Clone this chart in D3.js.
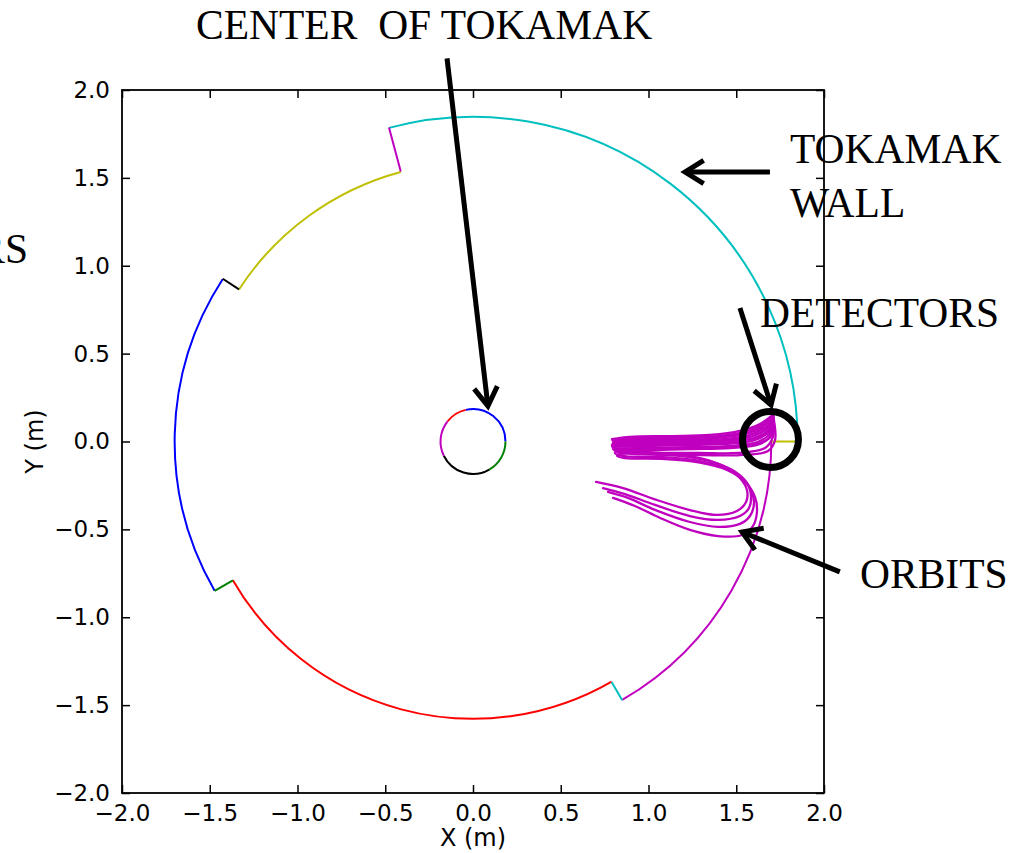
<!DOCTYPE html>
<html>
<head>
<meta charset="utf-8">
<script src="https://cdn.jsdelivr.net/npm/d3@7"></script>
<style>
  body { margin: 0; background: #fff; }
  svg { display: block; }
</style>
</head>
<body>
<div id="chart"></div>
<script>
// axis ticks
const xTicks = [-2, -1.5, -1, -0.5, 0, 0.5, 1, 1.5, 2]
const yTicks = [-2, -1.5, -1, -0.5, 0, 0.5, 1, 1.5, 2]

// wall: arcs round the origin (radius in m, angles in degrees)
const wallArcRadius = [1.85, 1.70, 1.58, 1.70, 1.59]
const wallArcFrom   = [105, 0, -60, -150, -213]
const wallArcTo     = [0, -60, -150, -213, -255]
// wall: radial steps between the arcs
const wallStepAngle = [0, -60, -150, -213, -255]
const wallStepFrom  = [1.85, 1.70, 1.58, 1.70, 1.59]
const wallStepTo    = [1.70, 1.58, 1.70, 1.59, 1.85]

// centre column
const innerRadius = 0.185
const innerFrom = [103, 0, -60, -154, 141]
const innerTo   = [0, -60, -154, -219, 103]

// orbits traced from the detector (x, y in m)
const shortOrbits = [
  [[1.709,0.151],[1.635,0.100],[1.521,0.060],[1.350,0.037],[1.123,0.031],[0.895,0.026],[0.792,0.014]],
  [[1.709,0.151],[1.650,0.097],[1.535,0.052],[1.365,0.028],[1.137,0.022],[0.909,0.018],[0.795,0.006]],
  [[1.709,0.151],[1.664,0.094],[1.550,0.043],[1.379,0.020],[1.151,0.014],[0.923,0.009],[0.798,-0.003]],
  [[1.709,0.151],[1.673,0.085],[1.564,0.034],[1.393,0.011],[1.165,0.005],[0.937,0.000],[0.800,-0.008]],
  [[1.709,0.151],[1.681,0.077],[1.578,0.026],[1.407,0.003],[1.179,-0.003],[0.952,-0.009],[0.803,-0.014]],
  [[1.709,0.151],[1.687,0.068],[1.592,0.017],[1.421,-0.006],[1.193,-0.012],[0.966,-0.018],[0.803,-0.022]],
  [[1.709,0.151],[1.692,0.060],[1.607,0.009],[1.436,-0.014],[1.208,-0.020],[0.980,-0.026],[0.803,-0.031]],
  [[1.709,0.151],[1.698,0.051],[1.621,-0.003],[1.450,-0.026],[1.222,-0.032],[0.994,-0.037],[0.806,-0.040]],
  [[1.709,0.151],[1.704,0.043],[1.635,-0.014],[1.464,-0.037],[1.236,-0.043],[1.009,-0.048],[0.809,-0.048]],
  [[1.709,0.151],[1.709,0.026],[1.664,-0.037],[1.510,-0.065],[1.293,-0.065],[1.066,-0.065],[0.821,-0.060]]
]
const longOrbits = [
  [[1.709,0.151],[1.692,0.094],[1.578,0.054],[1.407,0.026],[1.179,0.014],[0.952,0.009],[0.809,-0.003],[0.792,-0.026],
   [0.826,-0.048],[1.009,-0.060],[1.197,-0.077],[1.333,-0.105],[1.447,-0.151],[1.521,-0.208],[1.561,-0.276],[1.556,-0.344],
   [1.504,-0.395],[1.390,-0.418],[1.236,-0.390],[1.048,-0.333],[0.855,-0.265],[0.701,-0.230]],
  [[1.709,0.151],[1.698,0.065],[1.607,0.020],[1.436,-0.003],[1.208,-0.009],[0.980,-0.014],[0.815,-0.026],[0.798,-0.043],
   [0.838,-0.060],[1.037,-0.071],[1.225,-0.088],[1.368,-0.117],[1.487,-0.168],[1.561,-0.236],[1.584,-0.310],[1.573,-0.378],
   [1.521,-0.424],[1.396,-0.446],[1.236,-0.424],[1.037,-0.361],[0.866,-0.299],[0.741,-0.265]],
  [[1.709,0.151],[1.709,0.043],[1.635,-0.009],[1.464,-0.031],[1.236,-0.037],[1.009,-0.043],[0.826,-0.048],[0.809,-0.065],
   [0.849,-0.082],[1.066,-0.088],[1.254,-0.105],[1.407,-0.139],[1.521,-0.196],[1.584,-0.276],[1.601,-0.350],[1.578,-0.424],
   [1.521,-0.469],[1.396,-0.486],[1.236,-0.458],[1.037,-0.389],[0.883,-0.321],[0.769,-0.287]],
  [[1.709,0.151],[1.721,0.009],[1.681,-0.054],[1.521,-0.077],[1.293,-0.077],[1.066,-0.077],[0.838,-0.071],[0.821,-0.082],
   [0.866,-0.094],[1.094,-0.100],[1.293,-0.120],[1.447,-0.162],[1.550,-0.230],[1.607,-0.316],[1.618,-0.401],[1.595,-0.481],
   [1.533,-0.532],[1.396,-0.538],[1.236,-0.503],[1.066,-0.435],[0.923,-0.367],[0.798,-0.321]]
]

// annotation arrows: tail and tip (x, y in m)
const arrowTails = [[-0.148, 2.18], [1.692, 1.533], [1.521, 0.759], [2.09, -0.742]]
const arrowTips  = [[0.085, 0.202], [1.208, 1.533], [1.698, 0.208], [1.533, -0.515]]
const detectorRing = [1.695, 0.012]
const labelTexts = ["CENTER  OF TOKAMAK", "TOKAMAK", "WALL", "DETECTORS", "ORBITS", "DETECTORS"]

const wallColors  = ["#00bfbf", "#bf00bf", "#ff0000", "#0000ff", "#bfbf00"]
const stepColors  = ["#bfbf00", "#00bfbf", "#008000", "#000000", "#bf00bf"]
const innerColors = ["#0000ff", "#008000", "#000000", "#bf00bf", "#ff0000"]
const orbitColor = "#bf00bf"

const width = 1028, height = 853
const plotLeft = 122, plotRight = 824, plotTop = 90, plotBottom = 793

const svg = d3.select("#chart").append("svg")
  .attr("width", width)
  .attr("height", height)

const x = d3.scaleLinear().domain([-2, 2]).range([plotLeft, plotRight])
const y = d3.scaleLinear().domain([-2, 2]).range([plotBottom, plotTop])
const fmt = d3.format(".1f")
const rad = Math.PI / 180

svg.append("clipPath").attr("id", "plotclip")
  .append("rect")
  .attr("x", plotLeft).attr("y", plotTop)
  .attr("width", plotRight - plotLeft).attr("height", plotBottom - plotTop)

const plot = svg.append("g").attr("clip-path", "url(#plotclip)")

// arc around origin, angles in degrees (math convention)
const arcPath = (r, a0, a1) => {
  const p = d3.path()
  p.arc(x(0), y(0), x(r) - x(0), -a0 * rad, -a1 * rad, a1 > a0)
  return p.toString()
}

plot.selectAll(".wall")
  .data(wallArcRadius)
  .enter().append("path")
  .attr("class", "wall")
  .attr("d", (r, i) => arcPath(r, wallArcFrom[i], wallArcTo[i]))
  .attr("fill", "none")
  .attr("stroke", (d, i) => wallColors[i])
  .attr("stroke-width", 2)

plot.selectAll(".step")
  .data(wallStepAngle)
  .enter().append("line")
  .attr("class", "step")
  .attr("x1", (a, i) => x(wallStepFrom[i] * Math.cos(a * rad)))
  .attr("y1", (a, i) => y(wallStepFrom[i] * Math.sin(a * rad)))
  .attr("x2", (a, i) => x(wallStepTo[i] * Math.cos(a * rad)))
  .attr("y2", (a, i) => y(wallStepTo[i] * Math.sin(a * rad)))
  .attr("stroke", (d, i) => stepColors[i])
  .attr("stroke-width", 2)

plot.selectAll(".inner")
  .data(innerFrom)
  .enter().append("path")
  .attr("class", "inner")
  .attr("d", (a, i) => arcPath(innerRadius, a, innerTo[i]))
  .attr("fill", "none")
  .attr("stroke", (d, i) => innerColors[i])
  .attr("stroke-width", 2)

const orbitLine = d3.line()
  .x(d => x(d[0]))
  .y(d => y(d[1]))
  .curve(d3.curveCatmullRom.alpha(0.5))

plot.selectAll(".orbit")
  .data(shortOrbits.concat(longOrbits))
  .enter().append("path")
  .attr("class", "orbit")
  .attr("d", orbitLine)
  .attr("fill", "none")
  .attr("stroke", orbitColor)
  .attr("stroke-width", 2.3)
  .attr("stroke-linecap", "round")
  .attr("stroke-linejoin", "round")

// axes, ticks pointing inwards on all four sides
const tickFont = g => g.attr("font-family", "DejaVu Sans").attr("font-size", 23)

svg.append("g")
  .attr("transform", `translate(0,${plotBottom})`)
  .call(d3.axisBottom(x).tickValues(xTicks).tickFormat(fmt).tickSize(-8).tickPadding(12))
  .call(tickFont)
  .call(g => g.select(".domain").remove())

svg.append("g")
  .attr("transform", `translate(${plotLeft},0)`)
  .call(d3.axisLeft(y).tickValues(yTicks).tickFormat(fmt).tickSize(-8).tickPadding(12))
  .call(tickFont)
  .call(g => g.select(".domain").remove())

svg.append("g")
  .attr("transform", `translate(0,${plotTop})`)
  .call(d3.axisTop(x).tickValues(xTicks).tickFormat("").tickSize(-8))
  .call(g => g.select(".domain").remove())

svg.append("g")
  .attr("transform", `translate(${plotRight},0)`)
  .call(d3.axisRight(y).tickValues(yTicks).tickFormat("").tickSize(-8))
  .call(g => g.select(".domain").remove())

svg.selectAll(".tick line").attr("stroke-width", 1.5)

svg.append("rect")
  .attr("x", plotLeft).attr("y", plotTop)
  .attr("width", plotRight - plotLeft).attr("height", plotBottom - plotTop)
  .attr("fill", "none")
  .attr("stroke", "#000")
  .attr("stroke-width", 1.8)

svg.append("text")
  .attr("x", (plotLeft + plotRight) / 2)
  .attr("y", 846)
  .attr("text-anchor", "middle")
  .attr("font-family", "DejaVu Sans")
  .attr("font-size", 24)
  .text("X (m)")

svg.append("text")
  .attr("transform", `translate(43,${(plotTop + plotBottom) / 2}) rotate(-90)`)
  .attr("text-anchor", "middle")
  .attr("font-family", "DejaVu Sans")
  .attr("font-size", 24)
  .text("Y (m)")

// annotations
const notes = svg.append("g")

notes.append("circle")
  .attr("cx", x(detectorRing[0]))
  .attr("cy", y(detectorRing[1]))
  .attr("r", 28)
  .attr("fill", "none")
  .attr("stroke", "#000")
  .attr("stroke-width", 7)

arrowTails.forEach((tail, i) => {
  const x0 = x(tail[0]), y0 = y(tail[1])
  const x1 = x(arrowTips[i][0]), y1 = y(arrowTips[i][1])
  const back = Math.atan2(y0 - y1, x0 - x1)
  const arm = 22, spread = 32 * rad
  notes.append("line")
    .attr("x1", x0).attr("y1", y0).attr("x2", x1).attr("y2", y1)
    .attr("stroke", "#000").attr("stroke-width", 5)
  notes.append("polyline")
    .attr("points", [
      [x1 + arm * Math.cos(back + spread), y1 + arm * Math.sin(back + spread)],
      [x1, y1],
      [x1 + arm * Math.cos(back - spread), y1 + arm * Math.sin(back - spread)]
    ].map(p => p.join(",")).join(" "))
    .attr("fill", "none")
    .attr("stroke", "#000")
    .attr("stroke-width", 5)
    .attr("stroke-linejoin", "miter")
})

const labelPos = [[196, 39, "start"], [790, 163, "start"], [790, 217, "start"],
                  [760, 327, "start"], [860, 588, "start"], [28, 263, "end"]]
labelTexts.forEach((t, i) => {
  notes.append("text")
    .attr("x", labelPos[i][0])
    .attr("y", labelPos[i][1])
    .attr("text-anchor", labelPos[i][2])
    .attr("font-family", "Liberation Serif")
    .attr("font-size", 41.5)
    .attr("xml:space", "preserve")
    .text(t)
})
</script>
</body>
</html>
